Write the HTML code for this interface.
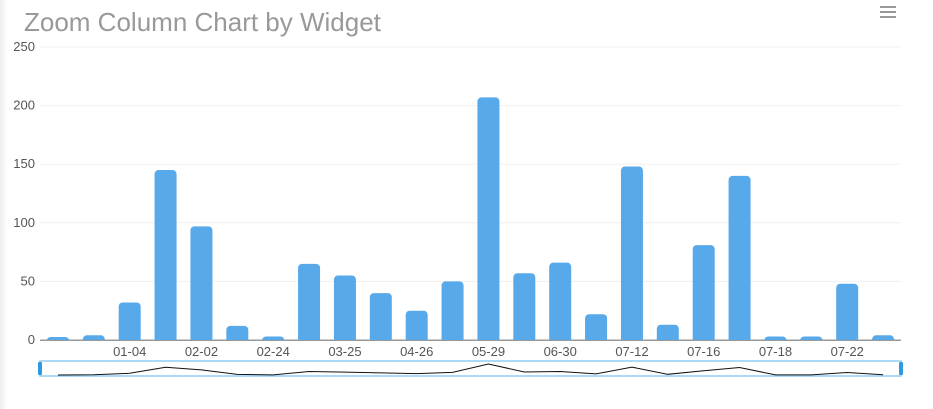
<!DOCTYPE html>
<html><head><meta charset="utf-8"><style>
body{margin:0;width:933px;height:409px;background:#fff;font-family:"Liberation Sans",sans-serif;overflow:hidden;position:relative}
#shade{position:absolute;left:0;top:0;width:8px;height:409px;background:linear-gradient(to right,#eee,#fff)}
</style></head><body>
<div id="shade"></div>
<svg id="c" width="933" height="409" style="position:absolute;left:0;top:0">
<text x="24" y="31" font-size="26" fill="#999">Zoom Column Chart by Widget</text>
<g stroke="#777" stroke-width="1.5">
<line x1="880" y1="7" x2="896" y2="7"/><line x1="880" y1="12" x2="896" y2="12"/><line x1="880" y1="17" x2="896" y2="17"/></g>
</svg>
<script>
const categories=["12-28","12-31","01-04","01-20","02-02","02-10","02-24","03-10","03-25","04-08","04-26","05-10","05-29","06-12","06-30","07-05","07-12","07-14","07-16","07-17","07-18","07-20","07-22","07-25"];
const values=[1,4,32,145,97,12,3,65,55,40,25,50,207,57,66,22,148,13,81,140,3,3,48,4];
const yTicks=[0,50,100,150,200,250];
const svg=document.getElementById('c');const NS='http://www.w3.org/2000/svg';
const L=40,R=901,T=47,B=340,yMax=250;
const y=v=>B-(v/yMax)*(B-T);
const band=(R-L)/categories.length;
const x=i=>L+band*(i+0.5);
function mk(t,a,p){const e=document.createElementNS(NS,t);for(const k in a)e.setAttribute(k,a[k]);(p||svg).appendChild(e);return e;}
yTicks.forEach(t=>{
 const g=mk('line',{x1:L,x2:R,y1:y(t),y2:y(t),stroke:t===0?'#999':'#f0f0f0','stroke-width':1});
 
 
 const tx=mk('text',{x:35,y:y(t)+4,'font-size':13,fill:'#555','text-anchor':'end'});tx.textContent=t;
 
 
});
const bw=22;
values.forEach((v,i)=>{
 const h=Math.max(B-y(v),3);
 const r=mk('rect',{x:x(i)-bw/2,y:B-h,width:bw,height:h+3,rx:4,fill:'#58a9ea'});
 
 
});
mk('rect',{x:L,y:B,width:R-L,height:4,fill:'#fff'});
mk('line',{x1:L,x2:R,y1:B+0.5,y2:B+0.5,stroke:'#999'});
categories.forEach((c,i)=>{
 if(i%2!==0||i===0)return;
 const t=mk('text',{x:x(i),y:356,'font-size':13,fill:'#555','text-anchor':'middle'});t.textContent=c;
 
 
});
const nT=361,nB=376;
const nav=mk('rect',{x:L,y:nT,width:R-L,height:nB-nT,fill:'none',stroke:'#8fcdf0','stroke-width':1.5});


const ny=v=>nB-1-(v/yMax)*(nB-nT-1)*0.95;
let d='';values.forEach((v,i)=>{d+=(i?'L':'M')+x(i)+','+ny(v);});
const pl=mk('path',{d:d,fill:'none',stroke:'#111','stroke-width':1});


[L,R].forEach(hx=>{
 const h=mk('rect',{x:hx-2,y:nT+1,width:4,height:nB-nT-2,fill:'#2e9be0',rx:1});
 
 
});
</script>
</body></html>
